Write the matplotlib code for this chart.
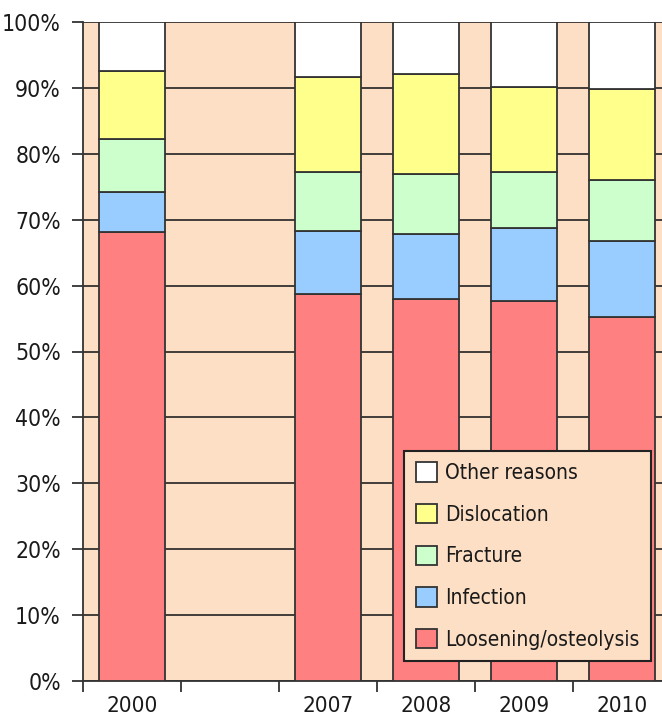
import numpy as np
import matplotlib
matplotlib.use("Agg")
import matplotlib.pyplot as plt
from matplotlib import font_manager as fm
from matplotlib.ticker import FixedLocator, PercentFormatter

categories = ["2000", "", "2007", "2008", "2009", "2010"]
loosening = [68.2, np.nan, 58.7, 58.0, 57.6, 55.2]
infection = [6.0, np.nan, 9.6, 9.8, 11.2, 11.5]
fracture = [8.0, np.nan, 9.0, 9.1, 8.5, 9.4]
dislocation = [10.4, np.nan, 14.4, 15.2, 12.8, 13.8]
other = [7.4, np.nan, 8.3, 7.9, 9.9, 10.1]

series = [
    ("Loosening/osteolysis", loosening, "#FF8080"),
    ("Infection", infection, "#99CCFF"),
    ("Fracture", fracture, "#CCFFCC"),
    ("Dislocation", dislocation, "#FFFF8C"),
    ("Other reasons", other, "#FFFFFF"),
]

# find a condensed font if available
fonts = fm.fontManager.ttflist
def pick():
    prefs = [
        lambda f: 'LiberationSansNarrow-Regular' in f.fname,
        lambda f: 'LiberationSansNarrow' in f.fname and 'Italic' not in f.fname,
        lambda f: 'DejaVuSansCondensed.ttf' in f.fname,
        lambda f: 'DejaVuSansCondensed' in f.fname and 'Oblique' not in f.fname,
        lambda f: 'Condensed' in f.fname and 'Italic' not in f.fname and 'Oblique' not in f.fname,
        lambda f: 'Narrow' in f.fname and 'Italic' not in f.fname,
    ]
    for p in prefs:
        for f in fonts:
            if p(f):
                return f.fname
    return None

fname = pick()
if fname:
    base = fm.FontProperties(fname=fname)
    scale = 1.0
else:
    base = fm.FontProperties(family='DejaVu Sans')
    scale = 0.85

def fp(size):
    p = base.copy()
    p.set_size(size * scale)
    return p

bg = "#FCDFC4"
edge = "#333333"

fig = plt.figure(figsize=(6.62, 7.24), dpi=100)
ax = fig.add_axes([83/662, 1-681/724, 588/662, 659/724])
ax.set_facecolor(bg)

x = np.arange(len(categories))
bottom = np.zeros(len(categories))
handles = []
for name, vals, col in series:
    v = np.array(vals, dtype=float)
    b = ax.bar(x, v, bottom=bottom, width=0.67, color=col, edgecolor=edge,
               linewidth=1.3, label=name, zorder=3)
    handles.append(b)
    bottom = bottom + np.nan_to_num(v)

ax.set_xlim(-0.5, len(categories) - 0.5)
ax.set_ylim(0, 100)
ax.yaxis.set_major_locator(FixedLocator(np.arange(0, 101, 10)))
ax.yaxis.set_major_formatter(PercentFormatter(decimals=0))
ax.yaxis.grid(True, color="#222222", linewidth=1.2, zorder=1)
ax.set_axisbelow(True)

ax.set_xticks(x)
ax.set_xticklabels(categories)
ax.set_xticks(np.arange(-0.5, len(categories)), minor=True)
ax.tick_params(axis='x', which='major', length=0, pad=11)
ax.tick_params(axis='x', which='minor', length=8, width=1.3, color="#333333")
ax.tick_params(axis='y', length=8, width=1.3, color="#333333", pad=8)
for lab in ax.get_xticklabels():
    lab.set_fontproperties(fp(16))
    lab.set_color("#1a1a1a")
for lab in ax.get_yticklabels():
    lab.set_fontproperties(fp(16.5))
    lab.set_color("#1a1a1a")

for s in ['top', 'right']:
    ax.spines[s].set_visible(False)
for s in ['left', 'bottom']:
    ax.spines[s].set_color("#333333")
    ax.spines[s].set_linewidth(1.3)

leg = ax.legend(handles[::-1], [s[0] for s in series][::-1],
                loc='upper left', bbox_to_anchor=(0.546, 0.349),
                borderaxespad=0, prop=fp(15), frameon=True, fancybox=False,
                framealpha=1, facecolor=bg, edgecolor="#222222",
                handlelength=1.05, handleheight=1.05, handletextpad=0.35,
                labelspacing=1.0, borderpad=0.55)
leg.get_frame().set_linewidth(1.5)
leg.set_zorder(5)
for t in leg.get_texts():
    t.set_color("#1a1a1a")

fig.savefig("out.png", dpi=100)
